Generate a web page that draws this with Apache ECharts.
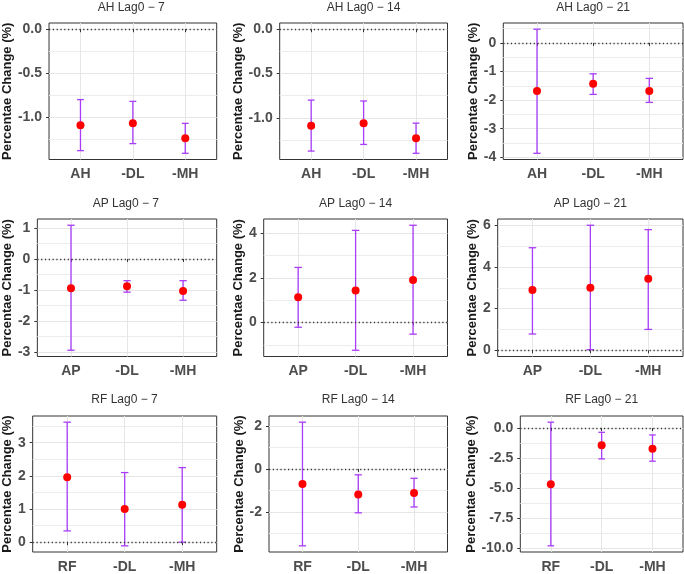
<!DOCTYPE html>
<html>
<head>
<meta charset="utf-8">
<script src="https://cdn.jsdelivr.net/npm/echarts@6.0.0/dist/echarts.min.js"></script>
<style>
  html, body { margin: 0; padding: 0; background: #fff; }
  #chart { width: 684px; height: 574px; }
</style>
</head>
<body>
<div id="chart"></div>
<script>
// ── Data ─────────────────────────────────────────────────────

const exposures   = ['AH', 'AP', 'RF'];
const lagWindows  = ['Lag0 \u2212 7', 'Lag0 \u2212 14', 'Lag0 \u2212 21'];
const adjustTerms = ['-DL', '-MH'];

// one row per panel, row-major (AH, AP, RF) x (lag 7, 14, 21)
const estimates = [
  [-1.09, -1.07, -1.24],
  [-1.09, -1.06, -1.23],
  [-1.68, -1.43, -1.68],
  [-0.94, -0.88, -1.03],
  [ 1.13,  1.44,  1.91],
  [ 2.89,  3.00,  3.43],
  [ 1.96,  1.00,  1.13],
  [-0.70, -1.18, -1.11],
  [-4.66, -1.42, -1.72],
];

const lowerCI = [
  [-1.38, -1.30, -1.41],
  [-1.375, -1.30, -1.40],
  [-3.86, -1.80, -2.08],
  [-2.94, -1.07, -1.33],
  [-0.21, -1.24, -0.52],
  [ 0.78,  0.03,  1.00],
  [ 0.34, -0.11,  0.00],
  [-3.56, -2.03, -1.76],
  [-9.78, -2.56, -2.75],
];

const upperCI = [
  [-0.80, -0.82, -1.07],
  [-0.80, -0.81, -1.06],
  [ 0.48, -1.08, -1.24],
  [ 1.085, -0.70, -0.70],
  [ 2.47,  4.13,  4.36],
  [ 4.92,  6.00,  5.79],
  [ 3.62,  2.10,  2.25],
  [ 2.17, -0.27, -0.43],
  [ 0.49, -0.35, -0.57],
];

const yTickLabels = [
  ['-1.0', '-0.5', '0.0'],
  ['-1.0', '-0.5', '0.0'],
  ['-4', '-3', '-2', '-1', '0'],
  ['-3', '-2', '-1', '0', '1'],
  ['0', '2', '4'],
  ['0', '2', '4', '6'],
  ['0', '1', '2', '3'],
  ['-2', '0', '2'],
  ['-10.0', '-7.5', '-5.0', '-2.5', '0.0'],
];

const yAxisTitle = 'Percentae Change (%)';


// ── Layout ───────────────────────────────────────────────────

const PANEL_LEFT = [45.7, 279.7, 503.3, 35, 263.7, 497.7, 32.3, 269, 520.3];
const COL_RIGHT  = [216.7, 447.5, 683];
const ROW_TOP    = [23, 219, 416];
const ROW_BOTTOM = [159.5, 356.5, 553.3];
const NAME_X     = [9.5, 241.3, 474.3];
const TITLE_Y    = [7.5, 204, 400];

const FONT       = '"Liberation Sans", Arial, sans-serif';
const GRID_MAJOR = '#e6e6e6';
const GRID_MINOR = '#ececec';
const INK        = '#333333';
const CAP_HALF   = 0.065;


// ── Helpers ──────────────────────────────────────────────────

// ggplot-style 5% expansion around data (zero line included)
function yRange(i) {
  const lo  = Math.min(0, ...lowerCI[i]);
  const hi  = Math.max(0, ...upperCI[i]);
  const pad = (hi - lo) * 0.05;
  return [lo - pad, hi + pad];
}

function minorValues(majors, range) {
  const step = majors[1] - majors[0];
  const out  = [];
  for (let k = -1; k < majors.length; k++) {
    const v = majors[0] + step * (k + 0.5);
    if (v > range[0] && v < range[1]) out.push(v);
  }
  return out;
}

function renderErrorBar(params, api) {
  const x  = api.value(0);
  const lo = api.value(1);
  const hi = api.value(2);
  const pTop = api.coord([x, hi]);
  const pBot = api.coord([x, lo]);
  const xl = api.coord([x - CAP_HALF, hi])[0];
  const xr = api.coord([x + CAP_HALF, hi])[0];
  const style = { stroke: '#a83cf8', lineWidth: 1.3 };
  return {
    type: 'group',
    children: [
      { type: 'line', shape: { x1: pTop[0], y1: pTop[1], x2: pBot[0], y2: pBot[1] }, style },
      { type: 'line', shape: { x1: xl, y1: pTop[1], x2: xr, y2: pTop[1] }, style },
      { type: 'line', shape: { x1: xl, y1: pBot[1], x2: xr, y2: pBot[1] }, style },
    ],
  };
}


// ── Build option ─────────────────────────────────────────────

const grids = [], xAxes = [], yAxes = [], series = [], graphics = [];

for (let i = 0; i < 9; i++) {
  const row = Math.floor(i / 3);
  const col = i % 3;
  const left   = PANEL_LEFT[i];
  const right  = COL_RIGHT[col];
  const top    = ROW_TOP[row];
  const height = ROW_BOTTOM[row] - top;

  grids.push({
    left, top, width: right - left, height,
    show: true, borderColor: INK, borderWidth: 1, backgroundColor: '#fff',
  });

  const xLabels = [exposures[row], ...adjustTerms];
  xAxes.push({
    type: 'value', gridIndex: i, min: 0.4, max: 3.6,
    axisLine:  { show: false },
    axisTick:  { show: true, customValues: [1, 2, 3], length: 3, lineStyle: { color: INK } },
    axisLabel: {
      customValues: [1, 2, 3], margin: 8,
      formatter: v => xLabels[Math.round(v) - 1],
      fontFamily: FONT, fontSize: 14, fontWeight: 'bold', color: '#4d4d4d',
    },
    splitLine: { show: true, lineStyle: { color: GRID_MAJOR, width: 1 } },
  });

  const range  = yRange(i);
  const labels = yTickLabels[i];
  const majors = labels.map(Number);
  const labelOf = new Map(majors.map((v, k) => [v, labels[k]]));

  // major axis: ticks, labels, major grid
  yAxes.push({
    type: 'value', gridIndex: i, min: range[0], max: range[1],
    name: yAxisTitle, nameLocation: 'middle',
    nameGap: left - NAME_X[col] - 6.5,
    nameTextStyle: { fontFamily: FONT, fontSize: 13, fontWeight: 'bold', color: '#1a1a1a' },
    axisLine:  { show: false },
    axisTick:  { show: true, customValues: majors, length: 3, lineStyle: { color: INK } },
    axisLabel: {
      customValues: majors, margin: 7,
      formatter: v => labelOf.has(v) ? labelOf.get(v) : String(v),
      fontFamily: FONT, fontSize: 14, fontWeight: 'bold', color: '#4d4d4d',
    },
    splitLine: { show: true, lineStyle: { color: GRID_MAJOR, width: 1 } },
  });

  // minor grid only
  yAxes.push({
    type: 'value', gridIndex: i, min: range[0], max: range[1], position: 'left',
    axisLine:  { show: false },
    axisTick:  { show: false, customValues: minorValues(majors, range) },
    axisLabel: { show: false },
    splitLine: { show: true, lineStyle: { color: GRID_MINOR, width: 1 } },
  });

  const barData = estimates[i].map((_, k) => [k + 1, lowerCI[i][k], upperCI[i][k]]);
  const ptData  = estimates[i].map((v, k) => [k + 1, v]);

  series.push({
    type: 'custom', xAxisIndex: i, yAxisIndex: 2 * i,
    renderItem: renderErrorBar,
    encode: { x: 0, y: [1, 2] },
    data: barData, z: 2, silent: true,
    markLine: {
      silent: true, symbol: 'none', label: { show: false },
      lineStyle: { type: [1.2, 2.6], color: INK, width: 1.3 },
      data: [{ yAxis: 0 }],
    },
  });

  series.push({
    type: 'scatter', xAxisIndex: i, yAxisIndex: 2 * i,
    data: ptData, symbolSize: 8, z: 3, silent: true,
    itemStyle: { color: '#ff0000', opacity: 1 },
  });

  graphics.push({
    type: 'text',
    x: (left + right) / 2, y: TITLE_Y[row],
    style: {
      text: exposures[row] + ' ' + lagWindows[col],
      align: 'center', verticalAlign: 'middle',
      font: '12px ' + FONT, fill: '#333',
    },
  });
}

const chart = echarts.init(document.getElementById('chart'), null, { renderer: 'canvas' });
chart.setOption({
  animation: false,
  backgroundColor: '#fff',
  grid: grids,
  xAxis: xAxes,
  yAxis: yAxes,
  series,
  graphic: graphics,
});
</script>
</body>
</html>
